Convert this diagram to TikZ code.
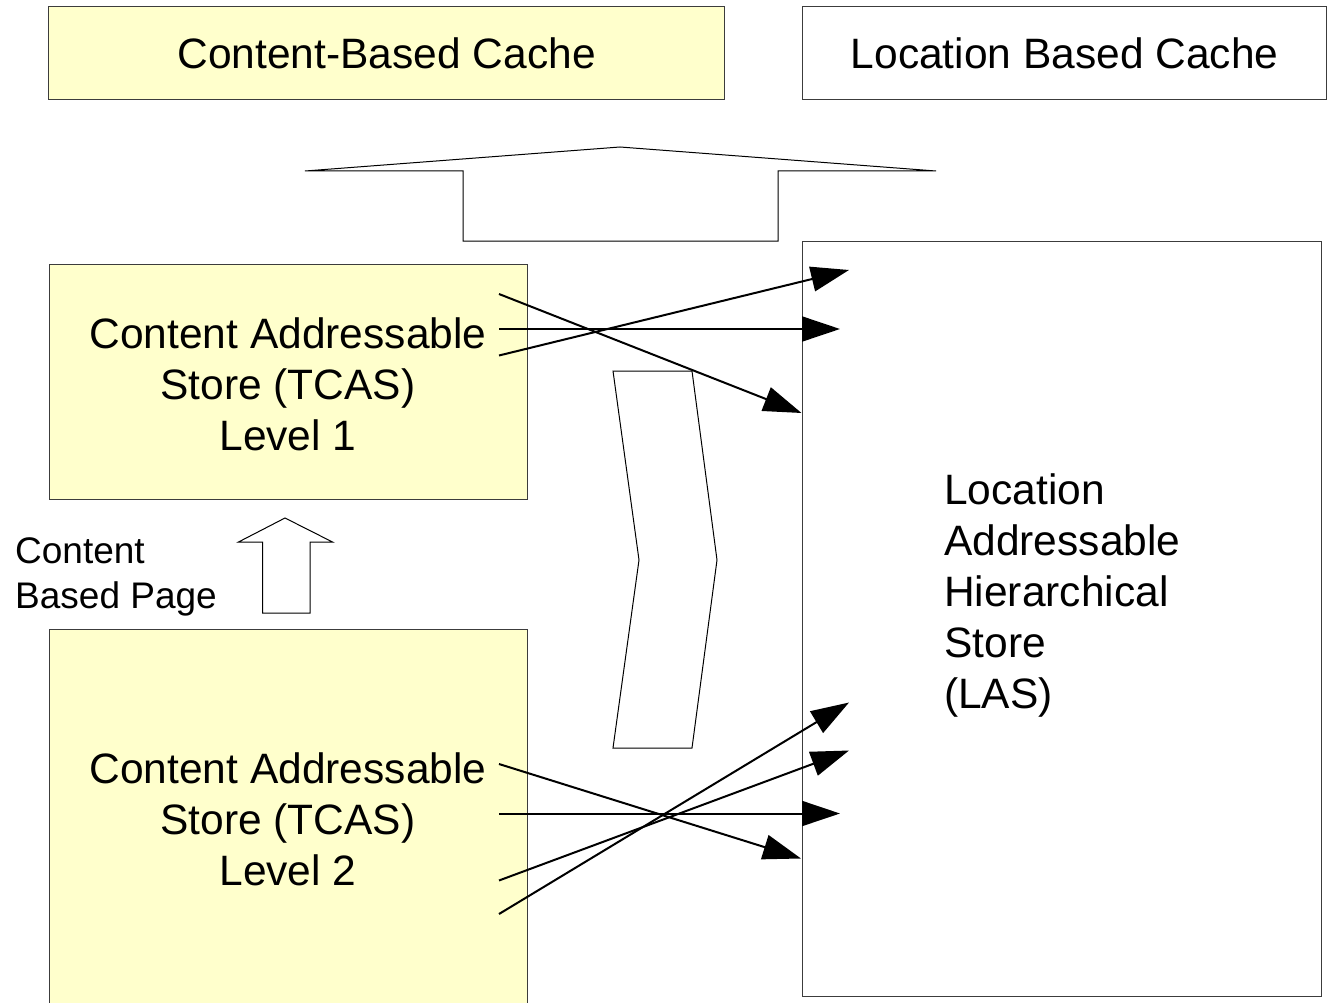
\documentclass[tikz,border=0pt]{standalone}
\usepackage{fontspec}
\setmainfont{Liberation Sans}
\usetikzlibrary{arrows.meta}
\definecolor{cream}{RGB}{255,255,204}
\definecolor{edge}{RGB}{60,60,60}
\begin{document}
\begin{tikzpicture}[x=1pt,y=-1pt,
  box/.style={draw=edge, line width=1.3pt, inner sep=0pt, anchor=north west},
  bigtext/.style={font=\fontsize{42.5}{51}\selectfont, inner sep=0pt},
  smalltext/.style={font=\fontsize{37}{44.5}\selectfont, inner sep=0pt},
  blockarrow/.style={draw=black, line width=1pt, fill=white},
  link/.style={draw=black, line width=2pt, -{Triangle[length=38pt,width=25pt]}}]
\useasboundingbox (0,0) rectangle (1330,1003);

% caches along the top
\node[box, fill=cream, minimum width=676pt, minimum height=93pt] (cbc) at (48,6) {};
\node[bigtext] at (cbc.center) {Content-Based Cache};
\node[box, fill=white, minimum width=524pt, minimum height=93pt] (lbc) at (802,6) {};
\node[bigtext] at (lbc.center) {Location Based Cache};

% content addressable stores
\node[box, fill=cream, minimum width=478pt, minimum height=235pt] (l1) at (49,264) {};
\node[bigtext, align=center] (l1t) at (288,384) {Content Addressable\\Store (TCAS)\\Level 1};
\node[box, fill=cream, minimum width=478pt, minimum height=390pt] (l2) at (49,629) {};
\node[bigtext, align=center] (l2t) at (288,819) {Content Addressable\\Store (TCAS)\\Level 2};

% location addressable store
\node[box, fill=white, minimum width=519pt, minimum height=755pt] (las) at (802,241) {};
\node[bigtext, align=left, anchor=west] (last) at (944,595) {Location\\Addressable\\Hierarchical\\Store\\(LAS)};

% label beside the small arrow
\node[smalltext, align=left, anchor=west] (cbp) at (15,577) {Content\\Based Page};

% block arrows
\draw[blockarrow] (305,171) -- (620,147) -- (936,171) -- (778,171) -- (778,241)
  -- (463,241) -- (463,171) -- cycle;
\draw[blockarrow] (613,371) -- (692,371) -- (717,560) -- (692,748) -- (613,748)
  -- (639,560) -- cycle;
\draw[blockarrow] (285,518) -- (332.5,542) -- (310,542) -- (310,613) -- (262.5,613)
  -- (262.5,542) -- (238.5,542) -- cycle;

% link end points
\coordinate (a1) at (499,294);   \coordinate (b1) at (801.5,413);
\coordinate (a2) at (499,329);   \coordinate (b2) at (840,329);
\coordinate (a3) at (499,355.5); \coordinate (b3) at (849,270);
\coordinate (c1) at (499,764);   \coordinate (d1) at (801,858.5);
\coordinate (c2) at (499,813.5); \coordinate (d2) at (840,813.5);
\coordinate (c3) at (499,880.5); \coordinate (d3) at (849,750.5);
\coordinate (c4) at (499,914);   \coordinate (d4) at (849,702.5);

% links from the stores to the hierarchical store
\draw[link] (a1) -- (b1);
\draw[link] (a2) -- (b2);
\draw[link] (a3) -- (b3);
\draw[link] (c1) -- (d1);
\draw[link] (c2) -- (d2);
\draw[link] (c3) -- (d3);
\draw[link] (c4) -- (d4);
\end{tikzpicture}
\end{document}
